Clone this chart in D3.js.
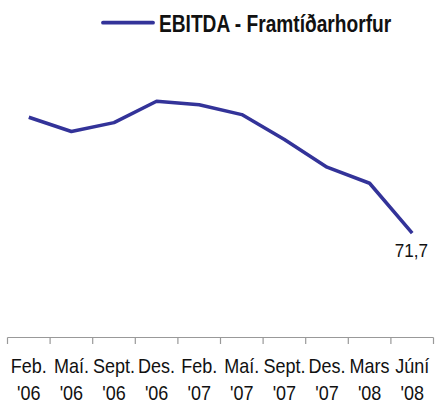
<!DOCTYPE html>
<html><head><meta charset="utf-8">
<script src="https://cdn.jsdelivr.net/npm/d3@7"></script>
<style>html,body{margin:0;padding:0;background:#fff;}svg{display:block;}</style>
</head><body>
<svg id="chart" width="437" height="404"></svg>
<script>
const months = ["Feb.", "Maí.", "Sept.", "Des.", "Feb.", "Maí.", "Sept.", "Des.", "Mars", "Júní"];
const years = ["'06", "'06", "'06", "'06", "'07", "'07", "'07", "'07", "'08", "'08"];
const categories = months.map((m, i) => m + " " + years[i]);
const values = [84.7, 83.1, 84.1, 86.5, 86.1, 85.0, 82.2, 79.1, 77.3, 71.7];
const seriesName = "EBITDA - Framtíðarhorfur";
const lastLabel = "71,7";

const svg = d3.select("#chart");
const color = "#333399";
const font = "Liberation Sans, Arial, sans-serif";

const x = d3.scaleBand().domain(categories).range([7.5, 433.5]);
const y = d3.scaleLinear().domain([60, 90]).range([337.5, 70]);

// axis
const axisG = svg.append("g").attr("transform", "translate(0,337.5)");
axisG.append("line").attr("x1", x.range()[0]).attr("x2", x.range()[1])
  .attr("stroke", "#999").attr("stroke-width", 1.2);
const bounds = categories.map(c => x(c)).concat([x.range()[1]]);
axisG.selectAll("line.tick").data(bounds).join("line").attr("class", "tick")
  .attr("x1", d => d).attr("x2", d => d).attr("y1", 0).attr("y2", 6.5)
  .attr("stroke", "#999").attr("stroke-width", 1.2);

const lbl = svg.append("g").attr("font-family", font)
  .attr("font-size", 20).attr("fill", "#111").attr("text-anchor", "middle");
lbl.selectAll("text.m").data(categories).join("text").attr("class", "m")
  .attr("transform", d => `translate(${x(d) + x.bandwidth() / 2},372.7) scale(0.9,1)`)
  .text((d, i) => months[i]);
lbl.selectAll("text.y").data(categories).join("text").attr("class", "y")
  .attr("transform", d => `translate(${x(d) + x.bandwidth() / 2},399.5) scale(0.9,1)`)
  .text((d, i) => years[i]);

// line
const line = d3.line().x((d, i) => x(categories[i]) + x.bandwidth() / 2).y(d => y(d));
svg.append("path").datum(values).attr("d", line).attr("fill", "none")
  .attr("stroke", color).attr("stroke-width", 3.5).attr("stroke-linejoin", "round");

// last label
svg.append("text").attr("transform", "translate(428,256.7) scale(0.9,1)")
  .attr("text-anchor", "end")
  .attr("font-family", font).attr("font-size", 19)
  .attr("fill", "#111").text(lastLabel);

// legend
svg.append("line").attr("x1", 103).attr("x2", 153).attr("y1", 22.7).attr("y2", 22.7)
  .attr("stroke", color).attr("stroke-width", 3.8).attr("stroke-linecap", "round");
svg.append("text").attr("transform", "translate(159,32) scale(0.815,1)")
  .attr("font-family", font).attr("font-weight", "bold")
  .attr("font-size", 23.5).attr("fill", "#111")
  .text(seriesName);
</script>
</body></html>
